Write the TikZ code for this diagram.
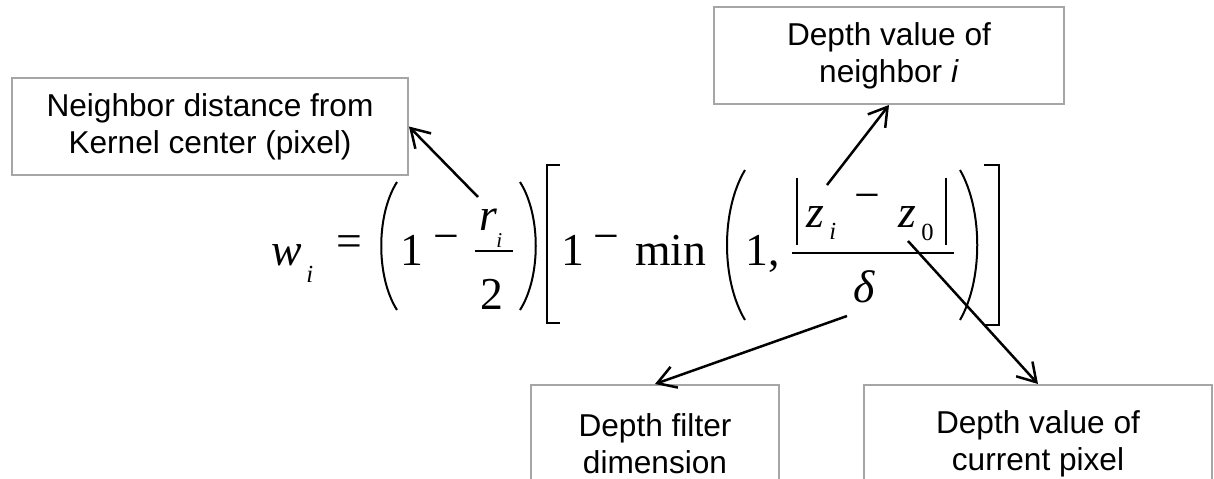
\documentclass[tikz,border=0pt]{standalone}
\usepackage{fontspec}
\setmainfont{Liberation Sans}
\newfontfamily\eqfont{Liberation Serif}
\usetikzlibrary{arrows.meta}

\begin{document}
\begin{tikzpicture}[x=0.02cm, y=-0.02cm,
    box/.style={draw=gray!70, line width=0.04cm, align=center, inner sep=0pt,
        minimum height=1.94cm, font=\fontsize{18}{21}\selectfont},
    sym/.style={inner sep=0pt, anchor=base west, font=\eqfont\fontsize{26}{30}\selectfont},
    var/.style={sym, font=\eqfont\itshape\fontsize{26}{30}\selectfont},
    idx/.style={sym, font=\eqfont\itshape\fontsize{14}{16}\selectfont},
    num/.style={sym, font=\eqfont\fontsize{14}{16}\selectfont},
    op/.style={sym, anchor=center},
    pen/.style={line width=0.04cm},
    arrow/.style={-{Straight Barb[length=0.36cm, width=0.44cm]}, line width=0.05cm}
]
\useasboundingbox (0,0) rectangle (1214,479);
\clip (0,0) rectangle (1214,479);
%% ---------------- the formula ----------------
\node[var] (w)  at (271,266) {w};
\node[idx] (wi) at (306,283) {i};
\node[op]  (eq) at (349,246) {=};
\draw[pen] (397,182) .. controls (376,215) and (376,277) .. (397,310);
\node[sym] (one1)   at (400,266) {1};
\node[op]  (minus1) at (446,243) {−};
\node[var] (r)  at (479,231) {r};
\node[idx, font=\eqfont\itshape\fontsize{12}{14}\selectfont] (ri) at (496,248) {i};
\draw[pen] (475,251) -- (513,251);
\node[sym] (two) at (480,310) {2};
\draw[pen] (520,182) .. controls (541,215) and (541,277) .. (520,310);
\draw[pen] (560,165) -- (547,165) -- (547,323) -- (560,323);
\node[sym] (one2)   at (561,266) {1};
\node[op]  (minus2) at (606,243) {−};
\node[sym] (min)    at (635,266) {min};
\draw[pen] (745,170) .. controls (721,210) and (721,280) .. (745,320);
\node[sym] (one3) at (745,266) {1,};
\draw[pen] (797,178) -- (797,245);
\node[var] (zi)  at (806,228) {z};
\node[idx] (zii) at (829,240) {i};
\node[op]  (minus3) at (867,202) {−};
\node[var] (z0)  at (898,228) {z};
\node[num] (z00) at (921,241) {0};
\draw[pen] (946,178) -- (946,245);
\draw[pen] (792,253) -- (954,253);
\node[var] (delta) at (853,303) {δ};
\draw[pen] (960,170) .. controls (983,210) and (983,280) .. (960,320);
\draw[pen] (984,165) -- (999,165) -- (999,325) -- (984,325);
%% ---------------- the notes ----------------
\node[box, minimum width=7.92cm] (dist) at (210,126.5) {Neighbor distance from\\Kernel center (pixel)};
\node[box, minimum width=7cm]    (nbr)  at (889,55.5)  {Depth value of\\neighbor \textit{i}};
\node[box, minimum width=4.96cm, minimum height=2.36cm] (filt) at (655,444) {Depth filter\\dimension};
\node[box, minimum width=6.96cm, minimum height=2.36cm] (cur)  at (1038,444) {Depth value of\\current pixel};
%% ---------------- arrows ----------------
\coordinate (rtop) at (478,197);
\coordinate (ztop) at (827,185);
\coordinate (dbot) at (847,316);
\coordinate (zbot) at (908,241);
\draw[arrow] (rtop) -- (dist.east);
\draw[arrow] (ztop) -- (nbr.south);
\draw[arrow] (dbot) -- (filt.north);
\draw[arrow] (zbot) -- (cur.north);
\end{tikzpicture}
\end{document}
